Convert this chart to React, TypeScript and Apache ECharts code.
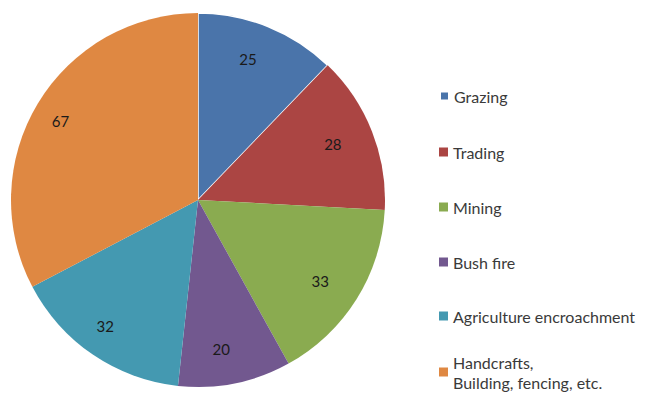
import React, { useEffect, useRef } from "react";
import * as echarts from "echarts";

const categories = [
  "Grazing",
  "Trading",
  "Mining",
  "Bush fire",
  "Agriculture encroachment",
  "Handcrafts,\nBuilding, fencing, etc.",
];
const values = [25, 28, 33, 20, 32, 67];
const colors = ["#4a74aa", "#ab4543", "#8aab50", "#72588f", "#4499b1", "#df8842"];
const legendIconCenters = [96, 152, 207, 262, 316, 372];

export default function App() {
  const ref = useRef<HTMLDivElement>(null);
  useEffect(() => {
    document.body.style.margin = "0";
    const chart = echarts.init(ref.current!, null, { renderer: "svg" });
    const data = categories.map((name, i) => ({
      name,
      value: values[i],
      itemStyle: {
        color: colors[i],
        borderColor: i === 0 ? "#ffffff" : colors[i],
        borderWidth: i === 0 ? 1.5 : 0,
      },
    }));
    const legends = categories.map((name, i) => ({
      orient: "vertical",
      left: 439,
      top: i === 5 ? legendIconCenters[i] - 30 : legendIconCenters[i] - 10,
      padding: 0,
      itemWidth: 9,
      itemHeight: 9,
      itemGap: 0,
      icon: "rect",
      selectedMode: false,
      data: [name],
      textStyle: {
        fontFamily: "Lato",
        fontSize: 16,
        color: "#3a3a3a",
        lineHeight: 20,
        padding: i === 5 ? [20, 0, 0, 0] : 0,
      },
    }));
    chart.setOption({
      animation: false,
      backgroundColor: "#ffffff",
      legend: legends,
      series: [
        {
          type: "pie",
          center: [198, 200],
          radius: [0, 187],
          startAngle: 90,
          clockwise: true,
          silent: true,
          label: { show: false },
          labelLine: { show: false },
          emphasis: { disabled: true },
          data,
        },
        {
          type: "pie",
          center: [198, 200],
          radius: [112, 187],
          startAngle: 90,
          clockwise: true,
          silent: true,
          emphasis: { disabled: true },
          itemStyle: { color: "rgba(0,0,0,0)", borderWidth: 0 },
          label: {
            show: true,
            position: "inside",
            formatter: "{c}",
            fontFamily: "Lato",
            fontSize: 15,
            color: "#1a1a1a",
            offset: [-7, 0],
          },
          labelLine: { show: false },
          data: categories.map((name, i) => ({ name, value: values[i] })),
        },
      ],
    });
    return () => chart.dispose();
  }, []);
  return <div ref={ref} style={{ width: 656, height: 403 }} />;
}
